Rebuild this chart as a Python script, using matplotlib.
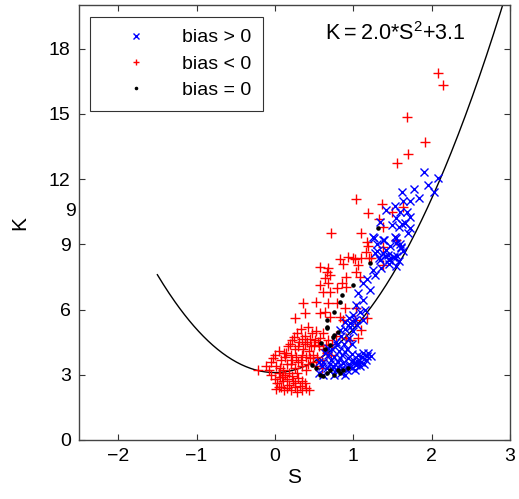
import matplotlib
matplotlib.use("Agg")
import matplotlib.pyplot as plt
import matplotlib.transforms as mtransforms
import numpy as np

plt.rcParams['font.family'] = ['Liberation Sans', 'DejaVu Sans']

# fitted curve K = a*S^2 + c, drawn from S_start
fit_a = 2.0
fit_c = 3.1
fit_s_start = -1.5
fit_s_end = 3.0

# bias < 0
red_s = [2.08, 2.15, 1.68, 1.92, 1.70, 1.56, 1.03, 1.37, 1.19, 1.33, 0.71, 1.10, 1.38, 1.17,
         1.19, 1.16, 1.50, 1.63, 1.55, 0.93, 1.00, 0.83, 1.38, 1.20, 0.87, 0.57, 0.68, 1.02,
         1.10, 1.06, 1.23, 1.38, 0.66, 0.70, 0.64, 0.68, 1.04, 1.08, 0.91, 0.85, 0.62, 0.57,
         0.70, 0.79, 0.91, 0.53, 0.68, 0.79, 0.89, 1.04, 1.17, 1.10, 0.36, 0.38, 0.25, 0.57,
         0.64, 0.70, 0.83, 0.87, 1.02, 1.06, 0.96, 0.91,
         0.17, 0.22, 0.28, 0.33, 0.38, 0.42, 0.47, 0.52, 0.57, 0.62, 0.68, 0.73, 0.78, 0.25,
         0.31, 0.36, 0.41, 0.46, 0.51, 0.56, 0.61, 0.66, 0.71, 0.20, 0.27, 0.34, 0.40, 0.48,
         0.54, 0.60, 0.44, 0.38, 0.14, 0.19, 0.24, 0.29, 0.35, 0.45, 0.50, 0.55, 0.65,
         -0.21, -0.12, -0.05, 0.00, 0.05, -0.08, 0.02, 0.08, 0.12, 0.15, 0.10, 0.20, 0.25,
         0.30, 0.35, 0.42, 0.48, 0.18, 0.05, 0.28, 0.40, 0.52, 0.60, -0.02, 0.07, 0.13,
         0.22, 0.33, 0.45,
         -0.05, 0.00, 0.03, 0.06, 0.10, 0.08, 0.12, 0.15, 0.18, 0.20, 0.23, 0.26, 0.28, 0.32,
         0.35, 0.40, 0.44, 0.13, 0.22, 0.30, 0.02, 0.38, 0.05, 0.16, 0.25, 0.34, 0.09]
red_k = [16.86, 16.32, 14.87, 13.69, 13.14, 12.75, 11.07, 10.85, 10.45, 10.15, 9.50, 9.50, 9.81, 9.12,
         8.92, 8.66, 10.50, 10.73, 9.20, 8.40, 8.37, 8.30, 8.86, 8.35, 8.09, 7.94, 7.89, 8.31,
         8.35, 8.05, 8.35, 8.05, 7.74, 7.59, 7.43, 7.20, 7.74, 7.50, 7.50, 7.20, 6.82, 7.13,
         6.82, 6.97, 7.05, 6.36, 6.28, 6.28, 6.05, 6.05, 5.60, 5.06, 6.28, 5.82, 5.60, 5.82,
         5.90, 5.67, 5.67, 5.52, 5.52, 4.68, 4.60, 4.68,
         4.30, 4.60, 4.90, 5.10, 4.80, 5.20, 4.90, 5.00, 4.70, 4.90, 4.60, 4.40, 4.80, 4.20,
         4.50, 4.20, 4.50, 4.30, 4.60, 4.30, 4.20, 4.00, 3.90, 3.90, 3.80, 3.90, 3.80, 3.90,
         3.80, 3.70, 4.10, 4.40, 4.00, 4.40, 4.75, 4.30, 4.65, 4.65, 4.35, 4.50, 4.35,
         3.20, 3.40, 3.60, 3.90, 4.10, 3.20, 3.40, 3.70, 4.00, 3.50, 3.20, 3.50, 3.30,
         3.60, 3.40, 3.50, 3.60, 3.10, 3.10, 3.10, 3.20, 3.40, 3.30, 3.75, 3.30, 3.80,
         3.70, 3.70, 3.75,
         3.00, 2.80, 2.60, 2.90, 2.70, 2.45, 2.30, 2.80, 2.55, 2.30, 2.70, 2.45, 2.20, 2.50,
         2.30, 2.40, 2.30, 3.00, 2.95, 2.85, 2.35, 2.60, 2.45, 2.40, 2.60, 2.70, 2.90]

# bias > 0
blue_s = [1.90, 2.08, 1.95, 2.03, 1.77, 1.84, 1.62, 1.63, 1.72, 1.53, 1.42, 1.59, 1.68, 1.72,
          1.55, 1.62, 1.50, 1.58, 1.66, 1.72, 1.70, 1.34, 1.25, 1.38, 1.55, 1.59, 1.61, 1.63,
          1.38, 1.40, 1.33, 1.45, 1.52, 1.56, 1.58,
          1.26, 1.39, 1.53, 1.55, 1.61, 1.42, 1.44, 1.51, 1.34, 1.46, 1.30, 1.47, 1.28,
          1.30, 1.45, 1.55, 1.35, 1.25, 1.12, 1.21, 1.06, 1.04, 1.12, 1.00, 0.89, 0.83, 0.96,
          1.12, 1.18, 1.28, 1.15, 1.08, 0.95, 1.05,
          0.62, 0.68, 0.73, 0.78, 0.84, 0.90, 0.96, 1.02, 0.70, 0.76, 0.82, 0.88, 0.94, 1.00,
          0.66, 0.74, 0.80, 0.86, 0.92, 0.98, 0.56, 0.62, 0.70, 0.78, 0.86, 0.94, 1.00, 1.06,
          1.12, 1.19, 1.22, 1.16, 1.10, 1.04, 0.98, 0.92, 0.84, 0.76, 0.90, 1.02, 1.08, 1.14,
          0.60, 0.72, 0.64, 0.56, 0.81, 0.87, 0.93, 0.99, 1.05, 1.11, 1.17, 0.83, 0.89, 0.95,
          1.01, 0.68, 0.79, 0.73, 1.07]
blue_k = [12.31, 12.03, 11.72, 11.39, 11.54, 11.11, 11.39, 11.00, 11.00, 10.76, 10.57, 10.50, 10.50, 10.27,
          10.20, 9.95, 9.90, 9.80, 10.00, 9.73, 9.50, 10.04, 9.35, 9.20, 9.30, 9.00, 8.85, 8.70,
          8.60, 8.45, 8.35, 8.30, 8.40, 8.45, 8.25,
          9.30, 9.20, 9.35, 9.04, 8.89, 8.74, 8.50, 8.43, 8.28, 8.28, 9.00, 8.90, 8.60,
          8.70, 8.10, 8.00, 7.90, 7.82, 7.20, 6.90, 6.74, 6.20, 6.44, 5.75, 5.44, 5.06, 5.21,
          5.52, 7.40, 7.60, 6.00, 5.90, 5.60, 5.30,
          3.60, 3.90, 4.20, 4.50, 4.80, 5.10, 5.40, 5.50, 3.50, 3.80, 4.10, 4.40, 4.70, 5.00,
          3.30, 3.40, 3.60, 3.90, 4.20, 4.40, 3.10, 3.00, 3.15, 3.20, 3.30, 3.50, 3.70, 3.90,
          4.00, 4.00, 3.85, 3.70, 3.60, 3.45, 3.30, 3.20, 3.10, 3.00, 3.00, 3.20, 3.40, 3.50,
          3.40, 3.70, 4.00, 3.60, 3.35, 3.55, 3.75, 3.95, 3.65, 3.80, 3.85, 3.75, 4.05, 3.40,
          3.55, 4.25, 4.35, 3.25, 3.70]

# bias = 0
black_s = [1.32, 1.21, 1.00, 0.85, 0.83, 0.76, 0.66, 0.66, 0.81, 0.74, 0.66, 0.59, 0.64, 0.70,
           0.76, 0.53, 0.57, 0.66, 0.70, 0.76, 0.83, 0.87, 0.93, 0.47, 0.62, 0.80]
black_k = [9.73, 8.12, 7.13, 6.67, 6.36, 5.90, 5.52, 5.13, 4.98, 4.75, 5.21, 4.44, 4.20, 4.37,
           4.83, 3.30, 2.99, 3.07, 3.22, 2.99, 3.07, 3.22, 3.30, 3.45, 2.95, 3.20]

x_ticks = [-2, -1, 0, 1, 2, 3]
y_ticks = [0, 3, 6, 9, 12, 15, 18]

fig = plt.figure(figsize=(5.19, 4.99), dpi=100)
ax = fig.add_axes([79 / 519, 59 / 499, 431 / 519, 435 / 499])

s_fit = np.linspace(fit_s_start, fit_s_end, 300)
ax.plot(s_fit, fit_a * s_fit ** 2 + fit_c, color='black', lw=1.0, zorder=1)

hr, = ax.plot(red_s, red_k, '+', color='red', ms=7, mew=1.0, ls='none', zorder=2)
hb, = ax.plot(blue_s, blue_k, 'x', color='blue', ms=5.5, mew=1.0, ls='none', zorder=3)
hk, = ax.plot(black_s, black_k, '.', color='black', ms=4.5, ls='none', zorder=4)

ax.set_xlim(-2.5, 3)
ax.set_ylim(0, 20)
ax.set_xticks(x_ticks)
ax.set_yticks(y_ticks)
ax.tick_params(direction='in', length=4, width=0.8, top=True, right=True,
               labelsize=14, colors='#333333', labelcolor='black', pad=6)
for sp in ax.spines.values():
    sp.set_color('#444444')
    sp.set_linewidth(1.0)

# stray duplicate label on the original's y axis
trans = mtransforms.blended_transform_factory(ax.transAxes, ax.transData)
ax.text(-0.007, 10.5, '9', transform=trans, ha='right', va='center', fontsize=14)

ax.set_xlabel('S', fontsize=15, labelpad=2)
ax.set_ylabel('K', fontsize=15, labelpad=14)

ax.text(0.57, 0.935, r'$\mathregular{K{=}2.0{*}S^2{+}3.1}$', transform=ax.transAxes,
        fontsize=15.5, ha='left', va='center')

leg = ax.legend([hb, hr, hk], ['bias > 0', 'bias < 0', 'bias = 0'],
                loc='upper left', bbox_to_anchor=(0.025, 0.972), fontsize=14,
                frameon=True, fancybox=False, edgecolor='black', markerscale=0.7,
                handlelength=3.6, handletextpad=0.55, borderpad=0.6, labelspacing=0.45,
                borderaxespad=0)
leg.get_frame().set_linewidth(0.8)

fig.savefig('out.png', dpi=100)
